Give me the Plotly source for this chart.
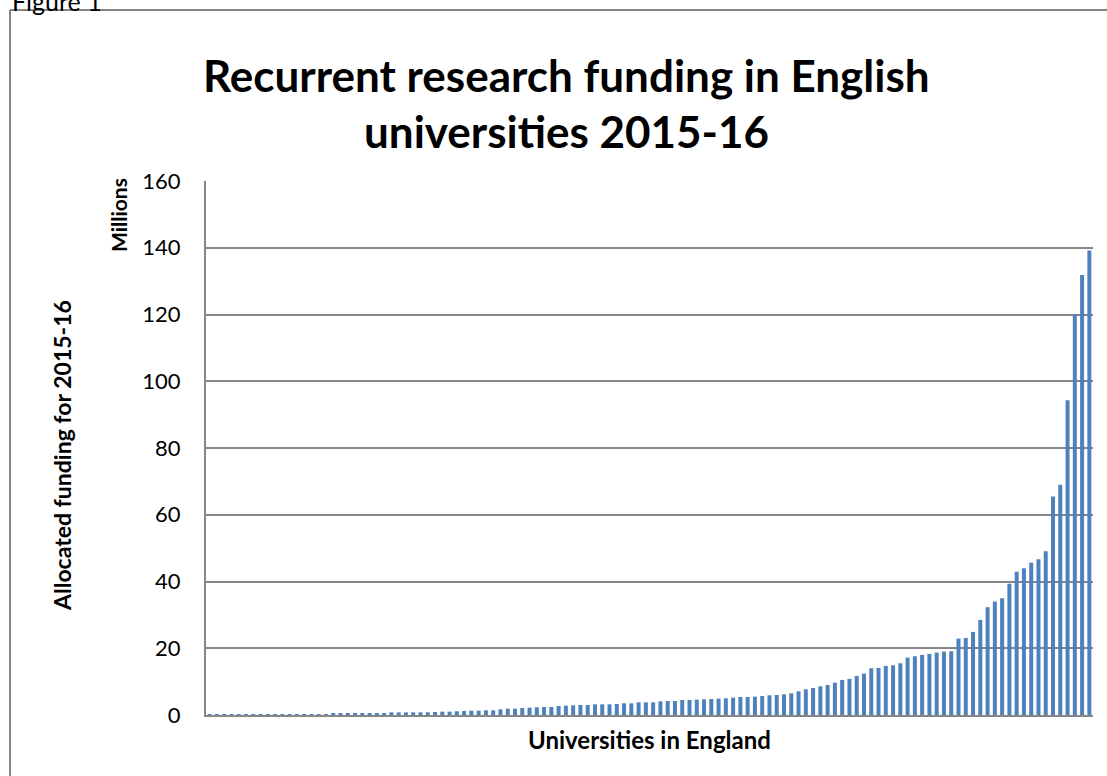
import plotly.graph_objects as go

# Recurrent research funding per university (millions), sorted ascending
funding = [
    0.05, 0.05, 0.05, 0.06, 0.07, 0.08, 0.1, 0.1, 0.12, 0.15,
    0.2, 0.2, 0.25, 0.25, 0.3, 0.3, 0.3, 0.35, 0.4, 0.4,
    0.5, 0.5, 0.5, 0.6, 0.6, 0.8, 0.8, 0.8, 0.8, 0.8, 0.8, 0.9, 1.0, 1.0,
    1.1, 1.2, 1.3, 1.3, 1.4, 1.4, 1.7, 1.9, 1.9,
    2.1, 2.2, 2.3, 2.4, 2.4, 2.7, 2.8, 2.9, 3.0, 3.0, 3.2, 3.2, 3.2, 3.3,
    3.5, 3.5, 3.8, 3.8, 3.8, 4.1, 4.2,
    4.2, 4.5, 4.5, 4.6, 4.7, 4.8, 4.9, 5.0, 5.2, 5.4, 5.4, 5.5, 5.7, 5.9,
    6.0, 6.2, 6.5, 7.1, 7.7, 8.1, 8.6,
    9.0, 9.7, 10.5, 10.8, 11.7, 12.4, 14.0, 14.1, 14.7, 14.9, 15.5, 17.2,
    17.6, 18.0, 18.3, 18.7, 19.0, 19.1,
    22.9, 23.1, 24.9, 28.5, 32.3, 34.0, 35.0, 39.3, 42.9, 44.0, 45.6, 46.7,
    49.1, 65.5, 69.0, 94.3, 120.1, 131.8, 139.2,
]
universities = [f"University {i + 1}" for i in range(len(funding))]
y_ticks = [0, 20, 40, 60, 80, 100, 120, 140, 160]

title_lines = ["Recurrent research funding in English", "universities 2015-16"]
y_title = "Allocated funding for 2015-16"
y_unit = "Millions"
x_title = "Universities in England"

FONT = "Lato"
GRID = "#868686"

fig = go.Figure(
    go.Bar(
        x=universities,
        y=funding,
        marker=dict(color="#4f81bd", line=dict(width=0)),
    )
)

W, H = 1107, 776
L, R, T, B = 206, 1093, 181, 715


def px(x):
    return (x - L) / (R - L)


def py(y):
    return (B - y) / (B - T)


fig.update_layout(
    width=W,
    height=H,
    margin=dict(l=L, r=W - R, t=T, b=H - B),
    paper_bgcolor="white",
    plot_bgcolor="white",
    bargap=0.45,
    showlegend=False,
    font=dict(family=FONT, color="black"),
    xaxis=dict(
        showticklabels=False,
        showgrid=False,
        showline=True,
        linecolor=GRID,
        linewidth=2,
        ticks="",
        range=[-0.5, len(funding) - 0.5],
    ),
    yaxis=dict(
        range=[0, 160],
        tickvals=y_ticks,
        ticktext=[str(v) for v in y_ticks],
        showgrid=True,
        gridcolor=GRID,
        gridwidth=2,
        zeroline=False,
        showline=True,
        linecolor=GRID,
        linewidth=2,
        ticks="",
        ticklabelstandoff=19,
        tickfont=dict(family=FONT, size=22, color="black"),
    ),
)

annotations = [
    dict(text=title_lines[0], x=px(566), y=py(75)),
    dict(text=title_lines[1], x=px(566), y=py(131)),
]
for a in annotations:
    a.update(xref="paper", yref="paper", xanchor="center", yanchor="middle",
             showarrow=False, font=dict(family=FONT, size=44, color="black"))
    a["text"] = f"<b>{a['text']}</b>"

annotations += [
    dict(text=f"<b>{y_title}</b>", x=px(62), y=py(456), textangle=-90,
         xref="paper", yref="paper", xanchor="center", yanchor="middle",
         showarrow=False, font=dict(family=FONT, size=23, color="black")),
    dict(text=f"<b>{y_unit}</b>", x=px(118), y=py(215), textangle=-90,
         xref="paper", yref="paper", xanchor="center", yanchor="middle",
         showarrow=False, font=dict(family=FONT, size=21, color="black")),
    dict(text=f"<b>{x_title}</b>", x=px(649), y=py(739),
         xref="paper", yref="paper", xanchor="center", yanchor="middle",
         showarrow=False, font=dict(family=FONT, size=24, color="black")),
    dict(text="Figure 1", x=px(10), y=py(1),
         xref="paper", yref="paper", xanchor="left", yanchor="middle",
         showarrow=False, font=dict(family=FONT, size=25, color="black")),
]
fig.update_layout(annotations=annotations)

# outer chart frame (cropped on right and bottom)
fig.add_shape(type="line", xref="paper", yref="paper",
              x0=px(10), x1=px(10), y0=py(10), y1=py(800),
              line=dict(color=GRID, width=2))
fig.add_shape(type="line", xref="paper", yref="paper",
              x0=px(10), x1=px(1120), y0=py(10), y1=py(10),
              line=dict(color=GRID, width=2))

fig.write_html("out.html")
